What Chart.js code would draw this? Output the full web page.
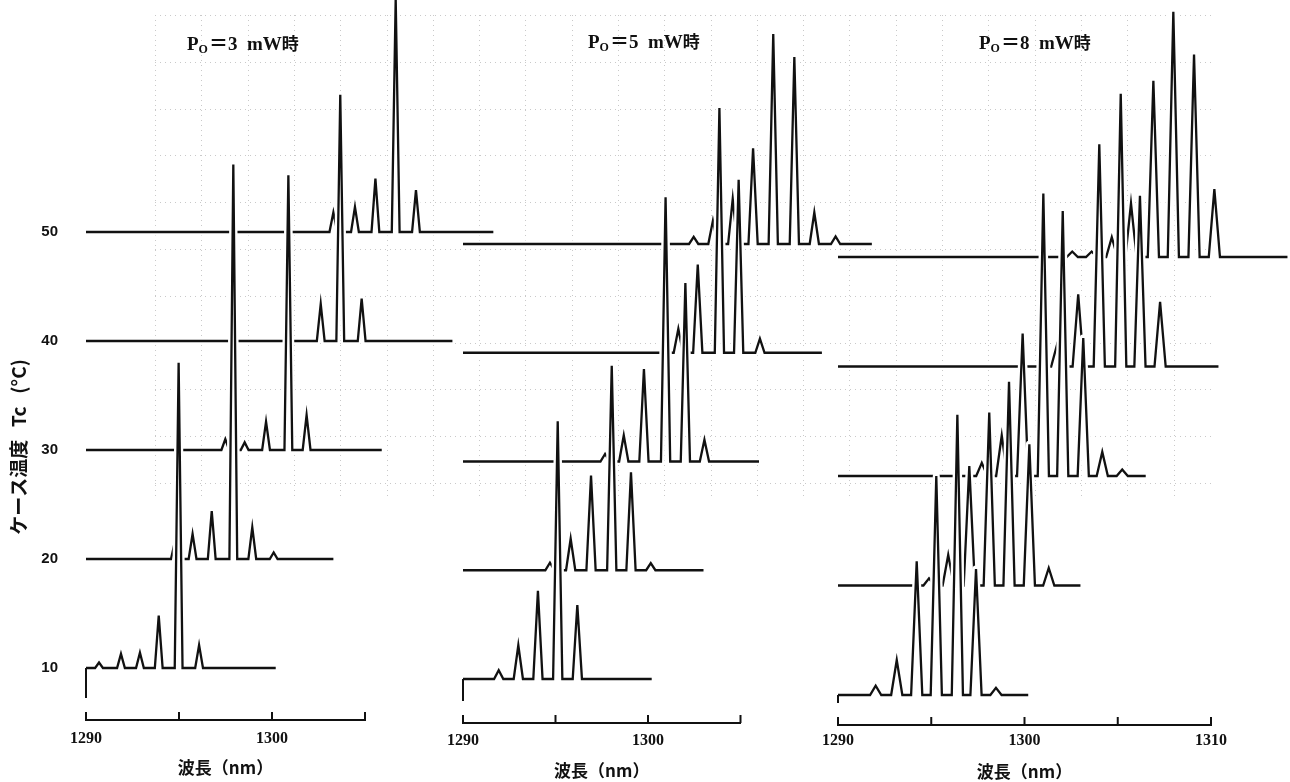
<!DOCTYPE html>
<html lang="ja">
<head>
<meta charset="utf-8">
<title>ケース温度と発振スペクトル</title>
<script src="https://cdn.jsdelivr.net/npm/chart.js@4.4.1/dist/chart.umd.min.js"></script>
<style>
  html, body { margin: 0; padding: 0; background: #fff; }
  #wrap { position: relative; width: 1290px; height: 782px; overflow: hidden; }
  #wrap canvas { position: absolute; left: 0; top: 0; }
</style>
</head>
<body>
<div id="wrap">
  <canvas id="chart3" width="1290" height="782"></canvas>
  <canvas id="chart5" width="1290" height="782"></canvas>
  <canvas id="chart8" width="1290" height="782"></canvas>
</div>
<script>
// case temperature of each spectrum (baseline of each trace, deg C)
const temps = [10, 20, 30, 40, 50];
const tempTicks = [10, 20, 30, 40, 50];
const waveTicksShort = [1290, 1295, 1300, 1305];
const waveTicksLong = [1290, 1295, 1300, 1305, 1310];
const waveLabels = [1290, 1300, 1310];

// Po = 3 mW : mode wavelengths (nm), peak heights (in deg C of offset), trace end (nm)
const p3Wave = [
  [1290.70, 1291.88, 1292.90, 1293.91, 1294.98, 1296.08],
  [1294.78, 1295.73, 1296.76, 1297.92, 1298.94, 1300.09],
  [1297.49, 1298.53, 1299.68, 1300.88, 1301.86],
  [1302.62, 1303.67, 1304.82],
  [1303.30, 1304.46, 1305.56, 1306.65, 1307.74]
];
const p3Height = [
  [0.5, 1.3, 1.4, 4.8, 28.0, 2.1],
  [1.6, 2.3, 4.4, 36.2, 2.9, 0.6],
  [1.0, 0.7, 2.6, 25.2, 3.2],
  [3.4, 22.6, 3.9],
  [1.8, 2.3, 4.9, 21.4, 3.85]
];
const p3End = [1300.2, 1303.3, 1305.9, 1309.7, 1311.9];

// Po = 5 mW
const p5Wave = [
  [1291.93, 1292.99, 1294.05, 1295.12, 1296.18],
  [1294.70, 1295.82, 1296.92, 1298.04, 1299.08, 1300.15],
  [1297.68, 1298.69, 1299.78, 1300.95, 1302.02, 1303.05],
  [1301.64, 1302.69, 1303.86, 1304.90, 1306.05],
  [1302.47, 1303.51, 1304.58, 1305.68, 1306.77, 1307.91, 1308.99, 1310.14]
];
const p5Height = [
  [0.8, 3.1, 8.1, 23.7, 6.8],
  [0.7, 2.9, 8.7, 18.8, 9.0, 0.65],
  [0.7, 2.4, 8.5, 24.3, 16.4, 2.0],
  [2.2, 8.1, 22.5, 15.9, 1.3],
  [0.65, 2.15, 4.15, 8.8, 19.3, 17.2, 2.9, 0.7]
];
const p5End = [1300.2, 1303.0, 1306.0, 1309.4, 1312.1];

// Po = 8 mW
const p8Wave = [
  [1292.02, 1293.15, 1294.22, 1295.27, 1296.40, 1297.40, 1298.47],
  [1294.88, 1295.91, 1297.04, 1298.11, 1299.17, 1300.26, 1301.30],
  [1297.71, 1298.78, 1299.90, 1301.01, 1302.05, 1303.15, 1304.17, 1305.24],
  [1301.73, 1302.88, 1304.01, 1305.16, 1306.19, 1307.27],
  [1302.56, 1303.60, 1304.68, 1305.71, 1306.91, 1307.98, 1309.09, 1310.18]
];
const p8Height = [
  [0.85, 3.2, 12.2, 20.0, 25.6, 11.5, 0.65],
  [0.65, 2.8, 10.9, 15.8, 18.6, 12.9, 1.6],
  [1.2, 3.7, 13.0, 25.8, 24.2, 12.6, 2.2, 0.6],
  [1.9, 6.6, 20.3, 24.9, 15.6, 5.9],
  [0.5, 0.5, 1.8, 4.9, 16.1, 22.4, 18.5, 6.2]
];
const p8End = [1300.2, 1303.0, 1306.5, 1310.4, 1314.1];

const INK = '#111';
const W = 1290, H = 782;

// one spectrum: flat baseline with a triangular peak per mode
function trace(base, waves, heights, end, hw) {
  const pts = [{ x: 1290, y: base }];
  waves.forEach((wl, i) => {
    pts.push({ x: wl - hw, y: base }, { x: wl, y: base + heights[i] }, { x: wl + hw, y: base });
  });
  pts.push({ x: end, y: base });
  return pts;
}

// lower temperature traces sit in front; a white under-stroke breaks the traces behind
function buildDatasets(waves, heights, ends, hw) {
  const ds = [];
  temps.forEach((t, r) => {
    const pts = trace(t, waves[r], heights[r], ends[r], hw);
    ds.push({ data: pts, borderColor: INK, borderWidth: 2.3, borderJoinStyle: 'miter' });
    ds.push({ data: pts, borderColor: '#fff', borderWidth: 7, borderJoinStyle: 'round' });
  });
  ds.forEach(d => Object.assign(d, { pointRadius: 0, tension: 0, fill: false, clip: false }));
  return ds;
}

// faint graph-paper grid of the recorder chart, behind everything
const paperGrid = {
  id: 'paperGrid',
  beforeDatasetsDraw(chart, args, o) {
    if (!o.show) return;
    const ctx = chart.ctx;
    ctx.save();
    ctx.strokeStyle = '#c9c9c9';
    ctx.lineWidth = 1;
    ctx.setLineDash([1, 4]);
    for (let gx = 155; gx <= 1215; gx += 46.3) {
      ctx.beginPath();
      ctx.moveTo(Math.round(gx) + 0.5, 15);
      ctx.lineTo(Math.round(gx) + 0.5, 500);
      ctx.stroke();
    }
    for (let gy = 15; gy <= 500; gy += 46.8) {
      ctx.beginPath();
      ctx.moveTo(155, Math.round(gy) + 0.5);
      ctx.lineTo(1212, Math.round(gy) + 0.5);
      ctx.stroke();
    }
    ctx.restore();
  }
};

// small upward ticks on the wavelength axis and the stub of the vertical axis
const axisMarks = {
  id: 'axisMarks',
  afterDraw(chart) {
    const { ctx, scales: { x, y } } = chart;
    const yb = x.top;
    ctx.save();
    ctx.strokeStyle = INK;
    ctx.lineWidth = 2;
    x.ticks.forEach(t => {
      const px = x.getPixelForValue(t.value);
      ctx.beginPath();
      ctx.moveTo(px, yb);
      ctx.lineTo(px, yb - 8);
      ctx.stroke();
    });
    const px0 = x.getPixelForValue(1290);
    ctx.beginPath();
    ctx.moveTo(px0, y.getPixelForValue(temps[0]));
    ctx.lineTo(px0, yb - 22);
    ctx.stroke();
    ctx.restore();
  }
};

// panel heading "Po = n mW時"
const caption = {
  id: 'caption',
  afterDraw(chart, args, o) {
    const ctx = chart.ctx;
    const serif = '"Liberation Serif", "Noto Sans CJK JP", serif';
    ctx.save();
    ctx.fillStyle = INK;
    ctx.textBaseline = 'alphabetic';
    let x = o.x;
    ctx.font = 'bold 19px ' + serif;
    ctx.fillText('P', x, o.y);
    x += ctx.measureText('P').width;
    ctx.font = 'bold 12px ' + serif;
    ctx.fillText('O', x, o.y + 3);
    x += ctx.measureText('O').width + 1;
    ctx.font = 'bold 19px ' + serif;
    const s = '＝' + o.power + '  mW';
    ctx.fillText(s, x, o.y);
    x += ctx.measureText(s).width;
    ctx.font = 'bold 17px "Noto Sans CJK JP", sans-serif';
    ctx.fillText('時', x, o.y);
    ctx.restore();
  }
};

function makePanel(id, p) {
  const k = p.pxPerDeg;
  const top = 174;
  const yMin = 10 - (p.bottom - p.px10) / k;
  const yMax = 10 + (p.px10 - top) / k;

  const yScale = {
    type: 'linear',
    min: yMin,
    max: yMax,
    display: p.showY,
    afterBuildTicks: s => { s.ticks = tempTicks.map(v => ({ value: v })); },
    grid: { display: false, drawTicks: false },
    border: { display: false },
    ticks: {
      padding: 28,
      color: INK,
      font: { family: '"Liberation Sans", Arial, sans-serif', weight: 'bold', size: 15 }
    },
    title: {
      display: true,
      text: 'ケース温度   Tc   (°C)',
      color: INK,
      padding: { top: 7, bottom: 0 },
      font: { family: '"Noto Sans CJK JP", sans-serif', weight: 'bold', size: 19 }
    }
  };
  if (p.showY) yScale.afterFit = s => { s.width = p.left; };

  return new Chart(document.getElementById(id), {
    type: 'line',
    data: { datasets: buildDatasets(p.waves, p.heights, p.ends, p.halfWidth) },
    options: {
      responsive: false,
      animation: false,
      events: [],
      layout: {
        padding: { left: p.showY ? 0 : p.left, right: W - p.right, top: top, bottom: 0 }
      },
      scales: {
        x: {
          type: 'linear',
          bounds: 'data',
          // range set after the data limits so the traces past the axis end are still drawn
          afterDataLimits: s => { s.min = 1290; s.max = p.xMax; },
          afterBuildTicks: s => { s.ticks = p.xTicks.map(v => ({ value: v })); },
          afterFit: s => { s.height = H - p.bottom; },
          grid: { display: false, drawTicks: false },
          border: { display: true, color: INK, width: 2 },
          ticks: {
            padding: p.tickPad,
            autoSkip: false,
            maxRotation: 0,
            color: INK,
            font: { family: '"Liberation Serif", serif', weight: 'bold', size: 16 },
            callback: v => waveLabels.includes(v) ? String(v) : ''
          },
          title: {
            display: true,
            text: '波長（nm）',
            color: INK,
            padding: { top: 0, bottom: p.titlePad },
            font: { family: '"Noto Sans CJK JP", sans-serif', weight: 'bold', size: 17 }
          }
        },
        y: yScale
      },
      plugins: {
        legend: { display: false },
        tooltip: { enabled: false },
        caption: { x: p.capX, y: p.capY, power: p.power },
        paperGrid: { show: p.showY }
      }
    },
    plugins: [paperGrid, axisMarks, caption]
  });
}

makePanel('chart3', {
  waves: p3Wave, heights: p3Height, ends: p3End, halfWidth: 0.21,
  xMax: 1305, xTicks: waveTicksShort, left: 86, right: 365, bottom: 720,
  px10: 668, pxPerDeg: 10.9, showY: true, tickPad: 9, titlePad: 4,
  capX: 187, capY: 50, power: 3
});
makePanel('chart5', {
  waves: p5Wave, heights: p5Height, ends: p5End, halfWidth: 0.25,
  xMax: 1305, xTicks: waveTicksShort, left: 463, right: 740.5, bottom: 723,
  px10: 679, pxPerDeg: 10.875, showY: false, tickPad: 8, titlePad: 1,
  capX: 588, capY: 48, power: 5
});
makePanel('chart8', {
  waves: p8Wave, heights: p8Height, ends: p8End, halfWidth: 0.3,
  xMax: 1310, xTicks: waveTicksLong, left: 838, right: 1211, bottom: 725,
  px10: 695, pxPerDeg: 10.95, showY: false, tickPad: 6, titlePad: 0,
  capX: 979, capY: 49, power: 8
});
</script>
</body>
</html>
